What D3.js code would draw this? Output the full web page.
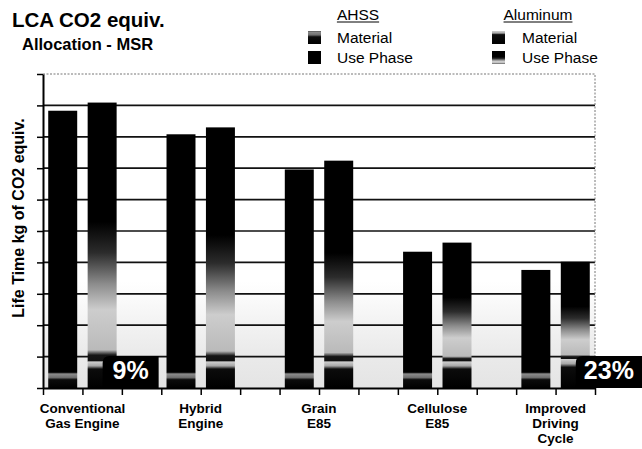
<!DOCTYPE html>
<html>
<head>
<meta charset="utf-8">
<script src="https://cdn.jsdelivr.net/npm/d3@7"></script>
<style>
  html, body { margin: 0; padding: 0; background: #fff; }
  svg { display: block; font-family: "Liberation Sans", Arial, sans-serif; }
</style>
</head>
<body>
<svg id="chart" width="642" height="449"></svg>
<script>
// Life-cycle CO2 equivalent, AHSS vs. Aluminum body, per powertrain scenario
const categories = [
  ["Conventional", "Gas Engine"],
  ["Hybrid", "Engine"],
  ["Grain", "E85"],
  ["Cellulose", "E85"],
  ["Improved", "Driving", "Cycle"]
];
const ahssMaterial = [0.48, 0.48, 0.48, 0.48, 0.48];
const ahssUse      = [8.35, 7.60, 6.48, 3.86, 3.28];
const alMaterial   = [0.84, 0.84, 0.84, 0.84, 0.92];
const alUse        = [8.25, 7.46, 6.40, 3.79, 3.10];
const yTicks = [0, 1, 2, 3, 4, 5, 6, 7, 8, 9, 10];
const calloutGroups = [0, 4];   // scenarios that show the aluminum material share

const W = 642, H = 449;
const m = { left: 43, right: 595, top: 74, bottom: 388 };
const svg = d3.select("#chart");
const defs = svg.append("defs");

function vGrad(id, stops) {
  const g = defs.append("linearGradient").attr("id", id)
    .attr("x1", 0).attr("y1", 1).attr("x2", 0).attr("y2", 0);
  stops.forEach(([o, c]) => g.append("stop").attr("offset", o).attr("stop-color", c));
}
vGrad("plotBg", [[0, "#e4e4e4"], [0.12, "#ebebeb"], [0.22, "#f4f4f4"], [0.3, "#fcfcfc"], [0.34, "#ffffff"], [1, "#ffffff"]]);
vGrad("ahssMat", [[0, "#000"], [0.55, "#0c0c0c"], [0.7, "#707070"], [0.92, "#8a8a8a"], [1, "#444"]]);
vGrad("alMat", [[0, "#000"], [0.72, "#0c0c0c"], [0.84, "#a8a8a8"], [1, "#cfcfcf"]]);
vGrad("alUse", [[0, "#111"], [0.025, "#151515"], [0.045, "#bababa"], [0.2, "#cdcdcd"], [0.3, "#8c8c8c"],
                [0.42, "#2c2c2c"], [0.54, "#000"], [1, "#000"]]);

// scales: 14 bar slots (AHSS, Aluminum, spacer per scenario)
const nSlots = 14;
const xs = d3.scaleLinear().domain([0, nSlots]).range([m.left, m.right]);
const xb = d3.scaleBand().domain(d3.range(nSlots)).range([m.left, m.right])
  .paddingInner(0.265).paddingOuter(0.1325);
const y = d3.scaleLinear().domain([0, 10]).range([m.bottom, m.top]);

// plot background
svg.append("rect").attr("x", m.left).attr("y", m.top)
  .attr("width", m.right - m.left).attr("height", m.bottom - m.top)
  .attr("fill", "url(#plotBg)");

// grid lines
svg.append("g").selectAll("line").data(yTicks.filter(v => v > 0 && v < 10)).join("line")
  .attr("x1", m.left).attr("x2", m.right)
  .attr("y1", d => y(d)).attr("y2", d => y(d))
  .attr("stroke", "#111").attr("stroke-width", 1.7);

// dotted frame (top and right)
svg.append("path")
  .attr("d", `M${m.left},${y(10)}H${m.right}V${m.bottom}`)
  .attr("fill", "none").attr("stroke", "#777").attr("stroke-width", 1)
  .attr("stroke-dasharray", "2,1.5");

// stacked bars
const bars = [];
categories.forEach((c, g) => {
  bars.push({ slot: 3 * g, mat: ahssMaterial[g], use: ahssUse[g], matFill: "url(#ahssMat)", useFill: "#000" });
  bars.push({ slot: 3 * g + 1, mat: alMaterial[g], use: alUse[g], matFill: "url(#alMat)", useFill: "url(#alUse)" });
});
const bg = svg.append("g");
bars.forEach(b => {
  bg.append("rect").attr("x", xb(b.slot)).attr("width", xb.bandwidth())
    .attr("y", y(b.mat + b.use)).attr("height", y(b.mat) - y(b.mat + b.use))
    .attr("fill", b.useFill);
  bg.append("rect").attr("x", xb(b.slot)).attr("width", xb.bandwidth())
    .attr("y", y(b.mat)).attr("height", y(0) - y(b.mat))
    .attr("fill", b.matFill);
});

// axes
const yAxis = svg.append("g").attr("transform", `translate(${m.left},0)`)
  .call(d3.axisLeft(y).tickValues(yTicks).tickSize(6).tickSizeOuter(0).tickFormat(""));
const xAxis = svg.append("g").attr("transform", `translate(0,${m.bottom})`)
  .call(d3.axisBottom(xs).tickValues(d3.range(nSlots + 1)).tickSize(7).tickSizeOuter(0).tickFormat(""));
[yAxis, xAxis].forEach(a => {
  a.select(".domain").attr("stroke", "#000").attr("stroke-width", 2);
  a.selectAll(".tick line").attr("stroke", "#000").attr("stroke-width", 1.5);
});

// material-share callouts
calloutGroups.forEach(g => {
  const total = alMaterial[g] + alUse[g];
  const pct = Math.round(alMaterial[g] / total * 100) + "%";
  const bx = xb(3 * g + 1) + 15;
  const bw = g === categories.length - 1 ? W - bx : 56;
  const top = m.bottom - 32, r = 7;
  svg.append("path")
    .attr("d", `M${bx},${m.bottom}V${top + r}Q${bx},${top} ${bx + r},${top}H${bx + bw}V${m.bottom}Z`)
    .attr("fill", "#000");
  svg.append("text").attr("x", bx + bw / 2).attr("y", m.bottom - 9)
    .attr("text-anchor", "middle").attr("fill", "#fff")
    .attr("font-weight", "bold").attr("font-size", 25).text(pct);
});

// category labels
const cl = svg.append("g").attr("font-weight", "bold").attr("font-size", 13.5)
  .attr("text-anchor", "middle").attr("fill", "#000");
categories.forEach((lines, g) => {
  const t = cl.append("text").attr("x", xs(3 * g + 1)).attr("y", 413);
  lines.forEach((s, i) => t.append("tspan").attr("x", xs(3 * g + 1)).attr("dy", i ? 15 : 0).text(s));
});

// y-axis title
svg.append("text").attr("transform", "translate(24,218) rotate(-90)")
  .attr("text-anchor", "middle").attr("font-weight", "bold").attr("font-size", 16)
  .text("Life Time kg of CO2 equiv.");

// titles
svg.append("text").attr("x", 12).attr("y", 27).attr("font-weight", "bold").attr("font-size", 20.5)
  .text("LCA CO2 equiv.");
svg.append("text").attr("x", 22).attr("y", 50).attr("font-weight", "bold").attr("font-size", 16.5)
  .text("Allocation - MSR");

// legend
const legend = [
  { title: "AHSS", x: 308, items: [["Material", "url(#ahssMat)"], ["Use Phase", "#000"]] },
  { title: "Aluminum", x: 492, items: [["Material", "url(#alMat)"], ["Use Phase", "url(#alUse)"]] }
];
legend.forEach(L => {
  const lg = svg.append("g").attr("font-size", 15.5).attr("fill", "#000");
  const tt = lg.append("text").attr("x", L.x + (L.title === "AHSS" ? 50 : 46)).attr("y", 20)
    .attr("text-anchor", "middle").text(L.title);
  const bb = tt.node().getBBox();
  lg.append("line").attr("x1", bb.x).attr("x2", bb.x + bb.width)
    .attr("y1", 22).attr("y2", 22).attr("stroke", "#000").attr("stroke-width", 1);
  L.items.forEach(([name, fill], i) => {
    lg.append("rect").attr("x", L.x).attr("y", 31 + i * 20).attr("width", 13).attr("height", 13)
      .attr("fill", fill);
    lg.append("text").attr("x", L.x + (L.title === "AHSS" ? 29 : 30)).attr("y", 43 + i * 20).text(name);
  });
});
</script>
</body>
</html>
